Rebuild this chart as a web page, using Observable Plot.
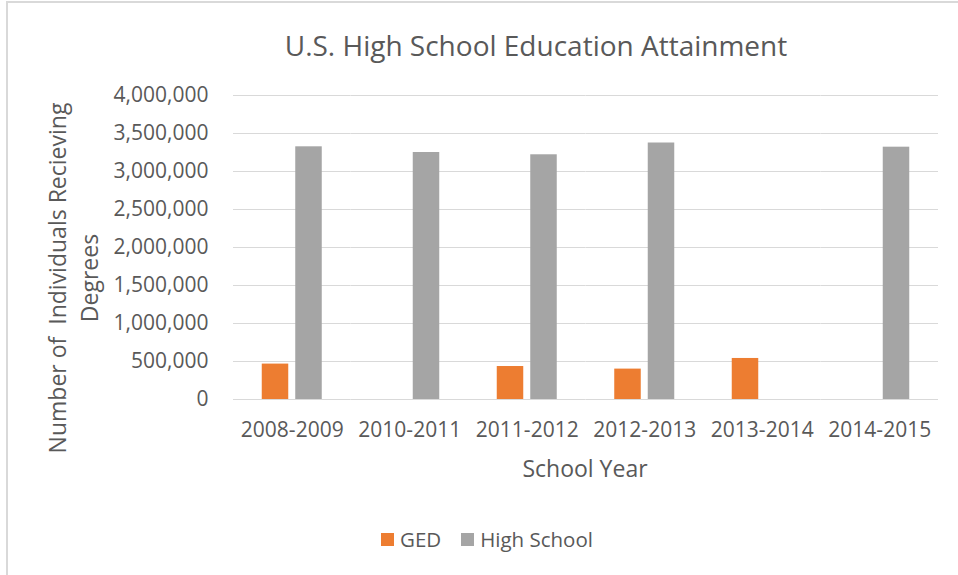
<!DOCTYPE html>
<html>
<head>
<meta charset="utf-8">
<script src="https://cdn.jsdelivr.net/npm/d3@7"></script>
<script src="https://cdn.jsdelivr.net/npm/@observablehq/plot@0.6"></script>
<style>
  body { margin: 0; background: #fff; }
  #chart { position: relative; width: 958px; height: 575px; overflow: hidden;
           font-family: "Open Sans", sans-serif; color: #595959; background: #fff; }
  #frame { position: absolute; left: 6px; top: 1px; right: -10px; bottom: -10px;
           border-left: 2px solid #d9d9d9; border-top: 2px solid #d9d9d9; }
  #title { position: absolute; left: 236px; width: 600px; top: 31px; text-align: center;
           font-size: 28px; line-height: 28px; white-space: nowrap; }
  #ylabel { position: absolute; left: -127px; top: 246px; width: 400px; text-align: center;
            font-size: 23px; line-height: 32px; white-space: pre; transform: rotate(-90deg);
            transform-origin: 50% 50%; }
  #xlabel { position: absolute; left: 385px; width: 400px; top: 457px; text-align: center;
            font-size: 23px; line-height: 23px; }
  #legend { position: absolute; left: 381px; top: 529px; display: flex; gap: 20px;
            font-size: 20.5px; line-height: 20px; white-space: nowrap; }
  #legend .item { display: flex; align-items: flex-start; }
  #legend .sw { width: 13px; height: 13px; margin-top: 4px; margin-right: 6px; }
  #chart svg { position: absolute; left: 0; top: 0; }
</style>
</head>
<body>
<div id="chart">
  <div id="frame"></div>
  <div id="title">U.S. High School Education Attainment</div>
  <div id="ylabel">Number of  Individuals Recieving<br>Degrees</div>
  <div id="xlabel">School Year</div>
  <div id="legend"></div>
</div>
<script>
const years = ["2008-2009", "2010-2011", "2011-2012", "2012-2013", "2013-2014", "2014-2015"];
const seriesNames = ["GED", "High School"];
const gedValues = [466000, null, 434000, 400000, 540000, null];
const highSchoolValues = [3325000, 3250000, 3220000, 3375000, null, 3320000];
const seriesColors = ["#ED7D31", "#A5A5A5"];
const yTicks = [0, 500000, 1000000, 1500000, 2000000, 2500000, 3000000, 3500000, 4000000];

const seriesValues = [gedValues, highSchoolValues];
const rows = [];
years.forEach((year, i) => {
  seriesNames.forEach((s, j) => {
    const v = seriesValues[j][i];
    if (v != null) rows.push({year, series: s, value: v});
  });
});

const plot = Plot.plot({
  width: 958,
  height: 449,
  marginTop: 95,
  marginBottom: 50,
  marginLeft: 233,
  marginRight: 20,
  style: {fontFamily: '"Open Sans", sans-serif', fontSize: "21px", color: "#595959", background: "transparent", overflow: "visible"},
  fx: {domain: years, padding: 0, round: false, label: null, axis: "bottom", tickSize: 0, tickPadding: 23},
  x: {domain: seriesNames, paddingInner: 0.209, paddingOuter: 0.858, round: false, axis: null},
  y: {domain: [0, 4000000], ticks: yTicks, tickFormat: d3.format(","), label: null, tickSize: 0, tickPadding: 25},
  color: {domain: seriesNames, range: seriesColors},
  marks: [
    Plot.gridY(yTicks, {stroke: "#d9d9d9", strokeOpacity: 1, strokeWidth: 1.2}),
    Plot.barY(rows, {fx: "year", x: "series", y: "value", fill: "series"})
  ]
});
document.getElementById("chart").appendChild(plot);

const legend = document.getElementById("legend");
seriesNames.forEach((s, i) => {
  const item = document.createElement("div");
  item.className = "item";
  const sw = document.createElement("span");
  sw.className = "sw";
  sw.style.background = seriesColors[i];
  const label = document.createElement("span");
  label.textContent = s;
  item.appendChild(sw);
  item.appendChild(label);
  legend.appendChild(item);
});
</script>
</body>
</html>
